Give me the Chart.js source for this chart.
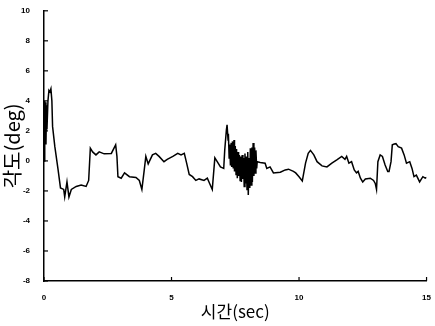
<!DOCTYPE html>
<html>
<head>
<meta charset="utf-8">
<script src="https://cdn.jsdelivr.net/npm/chart.js@4.4.1/dist/chart.umd.min.js"></script>
<style>
  html, body { margin: 0; padding: 0; background: #fff; }
  #wrap { width: 435px; height: 326px; }
</style>
</head>
<body>
<div id="wrap"><canvas id="c" width="435" height="326"></canvas></div>
<script>
// 시간(sec) / 각도(deg) 트레이스, 그림에서 읽은 값
const tiempos = [
  0, 0.019, 0.039, 0.058, 0.077, 0.097, 0.116, 0.155, 0.193, 0.232, 0.271, 0.309, 0.336,
  0.425, 0.553, 0.646, 0.773, 0.812, 0.901, 0.978, 1.071, 1.264, 1.457, 1.651, 1.751,
  1.817, 1.906, 2.037, 2.165, 2.358, 2.640, 2.810, 2.860, 2.899, 3.027, 3.158, 3.351,
  3.606, 3.738, 3.838, 3.931, 3.993, 4.086, 4.252, 4.380, 4.511, 4.704, 4.832, 5.052,
  5.245, 5.373, 5.501, 5.593, 5.694, 5.825, 5.953, 6.080, 6.274, 6.405, 6.494, 6.598,
  6.699, 6.792, 6.919, 7.047, 7.086, 7.151, 7.178, 7.217,
  7.23, 7.26, 7.28, 7.31, 7.34, 7.36, 7.39, 7.42, 7.45, 7.47,
  7.50, 7.53, 7.55, 7.58, 7.61, 7.63, 7.66, 7.69, 7.72, 7.74,
  7.77, 7.80, 7.82, 7.85, 7.88, 7.90, 7.93, 7.96, 7.99, 8.01,
  8.04, 8.07, 8.09, 8.12, 8.15, 8.17, 8.20, 8.23, 8.26, 8.28,
  8.31, 8.34, 8.36,
  8.477, 8.670, 8.736, 8.864, 8.996, 9.266, 9.459, 9.587, 9.780, 9.869, 10.0, 10.128,
  10.255, 10.360, 10.448, 10.580, 10.707, 10.901, 11.094, 11.287, 11.481, 11.674, 11.801,
  11.867, 11.956, 12.060, 12.165, 12.254, 12.319, 12.408, 12.497, 12.601, 12.795, 12.922,
  12.988, 13.038, 13.092, 13.181, 13.270, 13.375, 13.479, 13.529, 13.607, 13.657, 13.734,
  13.80, 13.889, 14.020, 14.121, 14.213, 14.341, 14.430, 14.507, 14.600, 14.728, 14.855,
  14.948, 15.0
];
const angulos = [
  0, 4.0, 1.4, 3.9, 1.1, 3.7, 2.1, 4.0, 4.7, 4.6, 4.8, 4.0, 2.3,
  0.95, -0.6, -1.8, -1.9, -2.4, -1.4, -2.4, -1.9, -1.7, -1.6, -1.7, -1.3,
  0.85, 0.6, 0.4, 0.6, 0.47, 0.5, 1.07, 0.3, -1.05, -1.15, -0.8, -1.05,
  -1.1, -1.3, -1.9, -0.6, 0.3, -0.2, 0.4, 0.5, 0.3, -0.05, 0.1, 0.3,
  0.5, 0.4, 0.5, -0.15, -0.9, -1.05, -1.3, -1.2, -1.3, -1.15, -1.5, -1.9,
  0.2, -0.05, -0.4, -0.5, 0.7, 2.05, 2.4, 1.4,
  1.8, 0.2, 1.1, -0.3, 1.2, -0.4, 1.3, -0.5, 1.4, -0.7,
  1.0, -0.9, 0.8, -1.15, 0.6, -1.0, 0.4, -1.3, 0.3, -1.4,
  0.4, -1.2, 0.2, -1.7, 0.5, -1.5, 0.3, -1.9, 0.6, -2.27,
  0.2, -1.8, 0.85, -1.6, 0.9, -1.4, 1.2, -1.0, 0.9, -0.8,
  0.7, -0.5, -0.05,
  -0.1, -0.15, -0.5, -0.4, -0.8, -0.75, -0.6, -0.55, -0.7, -0.8, -1.05, -1.33,
  -0.15, 0.5, 0.7, 0.4, -0.05, -0.33, -0.4, -0.15, 0.07, 0.3, 0.1,
  0.3, -0.15, -0.05, -0.6, -0.8, -0.7, -1.15, -1.4, -1.2, -1.15, -1.3,
  -1.5, -1.9, -0.05, 0.4, 0.3, -0.27, -0.7, -0.7, -0.05, 1.07, 1.13,
  1.15, 0.95, 0.85, 0.4, -0.15, -0.05, -0.5, -1.05, -0.95, -1.4, -1.05,
  -1.15, -1.1
];
const ticksX = [0, 5, 10, 15];
const ticksY = [-8, -6, -4, -2, 0, 2, 4, 6, 8, 10];

// marcas de eje hacia dentro
const marcasDentro = {
  id: 'marcasDentro',
  afterDraw(chart) {
    const ctx = chart.ctx;
    const sx = chart.scales.x, sy = chart.scales.y;
    ctx.save();
    ctx.strokeStyle = '#000';
    ctx.lineWidth = 1.2;
    ticksY.forEach(v => {
      const y = sy.getPixelForValue(v);
      ctx.beginPath(); ctx.moveTo(sx.left, y); ctx.lineTo(sx.left + 4, y); ctx.stroke();
    });
    ticksX.forEach(v => {
      const x = sx.getPixelForValue(v);
      ctx.beginPath(); ctx.moveTo(x, sy.bottom); ctx.lineTo(x, sy.bottom - 4); ctx.stroke();
    });
    ctx.restore();
  }
};

const fuenteTick = { family: 'Liberation Sans', size: 8, weight: 'bold' };

new Chart(document.getElementById('c'), {
  type: 'line',
  data: {
    datasets: [{
      data: tiempos.map((t, i) => ({ x: t, y: angulos[i] })),
      borderColor: '#000',
      borderWidth: 1.5,
      pointRadius: 0,
      tension: 0,
      fill: false
    }]
  },
  options: {
    responsive: false,
    animation: false,
    layout: { padding: { top: 7, right: 3, left: 0, bottom: 0 } },
    plugins: { legend: { display: false }, tooltip: { enabled: false } },
    scales: {
      x: {
        type: 'linear',
        min: 0, max: 15,
        afterBuildTicks: s => { s.ticks = ticksX.map(v => ({ value: v })); },
        afterFit: s => { s.height = 45; },
        grid: { display: false },
        border: { display: true, color: '#000', width: 1.5 },
        ticks: { color: '#000', font: fuenteTick, padding: 4, maxRotation: 0 },
        title: {
          display: true, text: '시간(sec)', color: '#000',
          font: { family: 'Noto Sans CJK KR', size: 17 }, padding: { top: 2 }
        }
      },
      y: {
        min: -8, max: 10,
        afterBuildTicks: s => { s.ticks = ticksY.map(v => ({ value: v })); },
        afterFit: s => { s.width = 44; },
        grid: { display: false },
        border: { display: true, color: '#000', width: 1.5 },
        ticks: { color: '#000', font: fuenteTick, padding: 6 },
        title: {
          display: true, text: '각도(deg)', color: '#000',
          font: { family: 'Noto Sans CJK KR', size: 20 }, padding: 0
        }
      }
    }
  },
  plugins: [marcasDentro]
});
</script>
</body>
</html>
